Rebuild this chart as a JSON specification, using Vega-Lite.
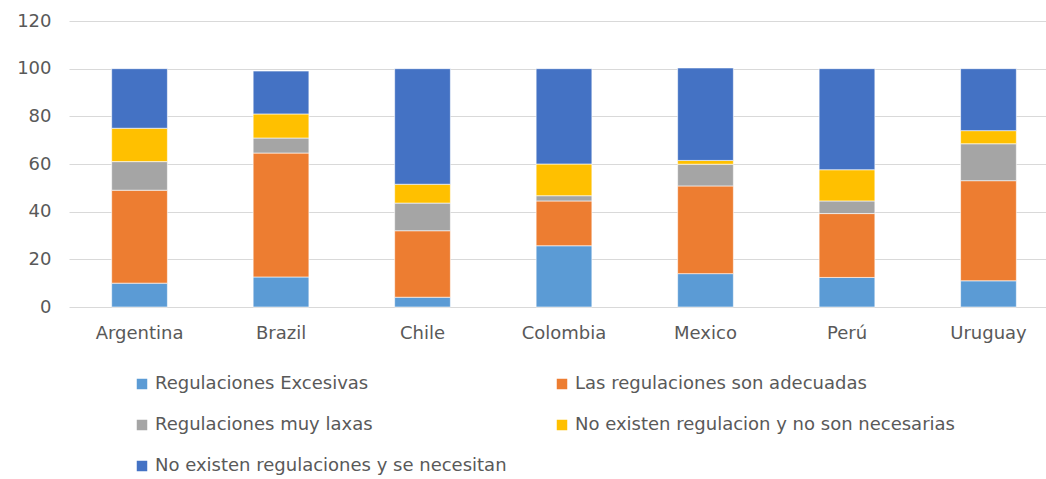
{
  "$schema": "https://vega.github.io/schema/vega-lite/v6.json",
  "autosize": "none",
  "width": 977,
  "height": 286,
  "padding": {"left": 69, "top": 21, "right": 0, "bottom": 172},
  "background": "white",
  "config": {"view": {"stroke": null}, "font": "DejaVu Sans"},
  "data": {
    "values": [
      {"pais": "Argentina", "cat": "Regulaciones Excesivas", "k": 1, "v": 10},
      {"pais": "Argentina", "cat": "Las regulaciones son adecuadas", "k": 2, "v": 39},
      {"pais": "Argentina", "cat": "Regulaciones muy laxas", "k": 3, "v": 12},
      {"pais": "Argentina", "cat": "No existen regulacion y no son necesarias", "k": 4, "v": 14},
      {"pais": "Argentina", "cat": "No existen regulaciones y se necesitan", "k": 5, "v": 25},
      {"pais": "Brazil", "cat": "Regulaciones Excesivas", "k": 1, "v": 12.6},
      {"pais": "Brazil", "cat": "Las regulaciones son adecuadas", "k": 2, "v": 52},
      {"pais": "Brazil", "cat": "Regulaciones muy laxas", "k": 3, "v": 6.3},
      {"pais": "Brazil", "cat": "No existen regulacion y no son necesarias", "k": 4, "v": 10.1},
      {"pais": "Brazil", "cat": "No existen regulaciones y se necesitan", "k": 5, "v": 18},
      {"pais": "Chile", "cat": "Regulaciones Excesivas", "k": 1, "v": 4.1},
      {"pais": "Chile", "cat": "Las regulaciones son adecuadas", "k": 2, "v": 27.9},
      {"pais": "Chile", "cat": "Regulaciones muy laxas", "k": 3, "v": 11.6},
      {"pais": "Chile", "cat": "No existen regulacion y no son necesarias", "k": 4, "v": 7.9},
      {"pais": "Chile", "cat": "No existen regulaciones y se necesitan", "k": 5, "v": 48.5},
      {"pais": "Colombia", "cat": "Regulaciones Excesivas", "k": 1, "v": 25.7},
      {"pais": "Colombia", "cat": "Las regulaciones son adecuadas", "k": 2, "v": 18.8},
      {"pais": "Colombia", "cat": "Regulaciones muy laxas", "k": 3, "v": 2.2},
      {"pais": "Colombia", "cat": "No existen regulacion y no son necesarias", "k": 4, "v": 13.3},
      {"pais": "Colombia", "cat": "No existen regulaciones y se necesitan", "k": 5, "v": 40},
      {"pais": "Mexico", "cat": "Regulaciones Excesivas", "k": 1, "v": 14},
      {"pais": "Mexico", "cat": "Las regulaciones son adecuadas", "k": 2, "v": 36.8},
      {"pais": "Mexico", "cat": "Regulaciones muy laxas", "k": 3, "v": 9.1},
      {"pais": "Mexico", "cat": "No existen regulacion y no son necesarias", "k": 4, "v": 1.6},
      {"pais": "Mexico", "cat": "No existen regulaciones y se necesitan", "k": 5, "v": 38.8},
      {"pais": "Perú", "cat": "Regulaciones Excesivas", "k": 1, "v": 12.4},
      {"pais": "Perú", "cat": "Las regulaciones son adecuadas", "k": 2, "v": 26.8},
      {"pais": "Perú", "cat": "Regulaciones muy laxas", "k": 3, "v": 5.3},
      {"pais": "Perú", "cat": "No existen regulacion y no son necesarias", "k": 4, "v": 13.1},
      {"pais": "Perú", "cat": "No existen regulaciones y se necesitan", "k": 5, "v": 42.4},
      {"pais": "Uruguay", "cat": "Regulaciones Excesivas", "k": 1, "v": 11},
      {"pais": "Uruguay", "cat": "Las regulaciones son adecuadas", "k": 2, "v": 42},
      {"pais": "Uruguay", "cat": "Regulaciones muy laxas", "k": 3, "v": 15.5},
      {"pais": "Uruguay", "cat": "No existen regulacion y no son necesarias", "k": 4, "v": 5.5},
      {"pais": "Uruguay", "cat": "No existen regulaciones y se necesitan", "k": 5, "v": 26}
    ]
  },
  "mark": {"type": "bar", "stroke": "white", "strokeWidth": 0.6},
  "encoding": {
    "x": {
      "field": "pais", "type": "nominal", "sort": null,
      "scale": {"paddingInner": 0.606, "paddingOuter": 0.2555, "align": 0.59},
      "axis": {"title": null, "labelAngle": 0, "domain": false, "ticks": false, "labelFontSize": 18, "labelColor": "#595959", "labelPadding": 17}
    },
    "y": {
      "field": "v", "type": "quantitative", "stack": "zero",
      "scale": {"domain": [0, 120], "nice": false},
      "axis": {"title": null, "values": [0, 20, 40, 60, 80, 100, 120], "domain": false, "ticks": false, "labelFontSize": 18, "labelColor": "#595959", "labelPadding": 18, "gridColor": "#D9D9D9", "gridWidth": 1.2}
    },
    "order": {"field": "k", "type": "quantitative"},
    "color": {
      "field": "cat", "type": "nominal",
      "scale": {
        "domain": ["Regulaciones Excesivas", "Las regulaciones son adecuadas", "Regulaciones muy laxas", "No existen regulacion y no son necesarias", "No existen regulaciones y se necesitan"],
        "range": ["#5B9BD5", "#ED7D31", "#A5A5A5", "#FFC000", "#4472C4"]
      },
      "legend": {
        "title": null, "orient": "none", "legendX": 64, "legendY": 354, "direction": "horizontal", "columns": 2,
        "symbolType": "square", "symbolSize": 110, "symbolStrokeWidth": 0, "labelFontSize": 18, "labelColor": "#595959",
        "rowPadding": 23, "columnPadding": 46, "labelOffset": 4, "padding": 0, "labelLimit": 500
      }
    }
  }
}
